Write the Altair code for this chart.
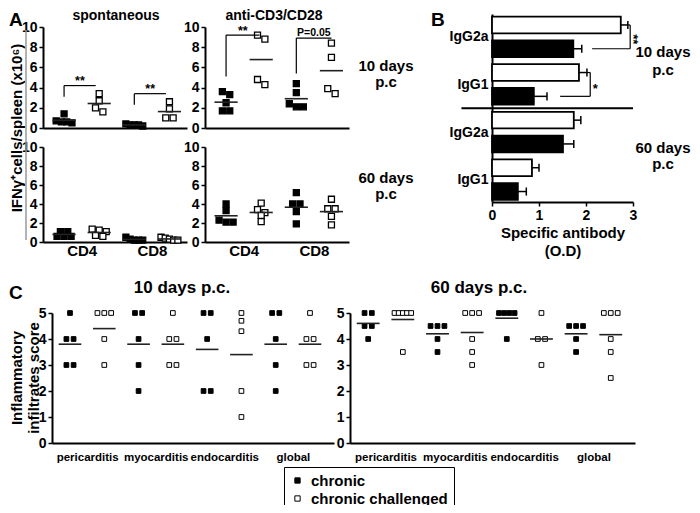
import altair as alt
import pandas as pd

FONT = "Liberation Sans"
W, H = 684, 497

groups = ["chronic", "chronic challenged"]

# ---------------- Panel A : IFN-gamma+ cells / spleen (x10^6) ----------------
a_cells = ["CD4", "CD8"]
a_col_titles = ["spontaneous", "anti-CD3/CD28"]
a_row_titles = [["10 days", "p.c"], ["60 days", "p.c"]]
a_ytitle = "IFNγ⁺cells/spleen (x10⁶)"
a_ticks = [0, 2, 4, 6, 8, 10]
# order: CD4 chronic, CD4 chronic challenged, CD8 chronic, CD8 chronic challenged
a_spont_10d = [[1.4, 0.7, 0.6, 0.6, 0.5], [3.4, 2.7, 2.0, 1.6],
               [0.4, 0.3, 0.3, 0.3, 0.2], [2.6, 1.9, 1.0, 1.0]]
a_stim_10d = [[3.6, 3.3, 2.5, 1.7, 1.7], [9.2, 8.8, 4.8, 4.3],
              [4.4, 3.5, 2.4, 2.1, 2.1], [8.4, 7.0, 3.9, 3.4]]
a_spont_60d = [[1.1, 1.1, 0.6, 0.6, 0.6], [1.35, 1.25, 1.1, 0.7, 0.6],
               [0.5, 0.3, 0.2, 0.2, 0.2], [0.5, 0.4, 0.3, 0.2, 0.2]]
a_stim_60d = [[4.0, 3.3, 2.3, 2.1, 2.1], [4.1, 3.4, 3.1, 2.8, 2.15],
              [5.2, 4.0, 4.0, 3.2, 1.9], [4.5, 3.5, 3.5, 2.7, 1.8]]
# significance: label, x_from, y_low, y_top, x_to
a_sig_spont_10d = [("**", 0, 3.1, 4.2, 0.9), ("**", 2, 2.3, 3.4, 2.9)]
a_sig_stim_10d = [("**", 0, 5.1, 9.2, 0.95), ("P=0.05", 2, 5.4, 8.9, 3.0)]

# ---------------- Panel B : specific antibody (O.D) ----------------
b_isotypes = ["IgG2a", "IgG1", "IgG2a", "IgG1"]
b_row_titles = [["10 days", "p.c"], ["60 days", "p.c"]]
b_challenged = [2.74, 1.85, 1.74, 0.85]
b_challenged_err = [0.15, 0.17, 0.15, 0.15]
b_chronic = [1.73, 0.89, 1.51, 0.55]
b_chronic_err = [0.18, 0.28, 0.23, 0.18]
b_xtitle = ["Specific antibody", "(O.D)"]
b_ticks = [0, 1, 2, 3]
b_brackets = [(2.89, 0, 2.94, 0), (2.94, 0, 2.94, 1), (2.13, 1, 2.94, 1),
              (2.02, 2, 2.09, 2), (2.09, 2, 2.09, 3), (1.45, 3, 2.09, 3)]
b_divider = [(-0.65, 3.5, 3.0, 3.5)]

# ---------------- Panel C : inflammatory infiltrates score ----------------
c_sites = ["pericarditis", "myocarditis", "endocarditis", "global"]
c_titles = ["10 days p.c.", "60 days p.c."]
c_ytitle = ["Inflammatory", "infiltrates score"]
c_ticks = [0, 1, 2, 3, 4, 5]
# order per site: chronic, chronic challenged
c_10d = [[5, 4, 4, 3, 3], [5, 5, 5, 4, 3],
         [5, 5, 4, 3, 2], [5, 4, 4, 3, 3],
         [5, 5, 4, 2, 2], [5, 4.7, 4.3, 2, 1],
         [5, 5, 4, 3, 2], [5, 4, 4, 3, 3]]
c_60d = [[5, 5, 4.5, 4.5, 4], [5, 5, 5, 5, 5, 3.5],
         [4.5, 4.5, 4.5, 4, 3.5], [5, 5, 5, 4, 3.5, 3],
         [5, 5, 5, 5, 4], [5, 4, 4, 3],
         [4.5, 4.5, 4.5, 4, 3.5], [5, 5, 5, 4, 3.5, 2.5]]


# ---------------- helpers ----------------
FILL = alt.Fill(
    "group:N",
    scale=alt.Scale(domain=groups, range=["black", "white"]),
    legend=alt.Legend(
        title=None, orient="none", legendX=276, legendY=459, direction="vertical",
        symbolType="square", symbolSize=28, symbolStrokeColor="black", symbolStrokeWidth=1,
        labelFont=FONT, labelFontSize=15, labelFontWeight="bold", labelColor="black",
        strokeColor="black", padding=6, rowPadding=2, labelOffset=6,
    ),
)


def base_axis(**kw):
    d = dict(grid=False, title=None, domainColor="black", domainWidth=2,
             tickColor="black", tickWidth=1.5, tickSize=4,
             labelFont=FONT, labelFontSize=14, labelFontWeight="bold",
             labelColor="black", labelPadding=2, labelFlush=False, labelOverlap=False)
    d.update(kw)
    return alt.Axis(**d)


def js_list(items):
    return "[" + ",".join("'" + s + "'" for s in items) + "]"


def scatter_frame(series, thr):
    rows = []
    for i, vals in enumerate(series):
        grp = groups[i % 2]
        clusters = []
        for v in sorted(vals, reverse=True):
            if clusters and clusters[-1][0] - v < thr:
                clusters[-1].append(v)
            else:
                clusters.append([v])
        for cl in clusters:
            n = len(cl)
            step = min(0.21, 0.6 / n)
            for k, v in enumerate(cl):
                rows.append({"x": i + (k - (n - 1) / 2) * step, "value": v, "group": grp})
    return pd.DataFrame(rows)


def mean_frame(series, half=0.33):
    return pd.DataFrame([{"x1": i - half, "x2": i + half, "mean": sum(v) / len(v)}
                         for i, v in enumerate(series)])


def seg_frame(segs):
    return pd.DataFrame(segs, columns=["x1", "y1", "x2", "y2"])


def label(txt, x, y, size=15, weight="bold", align="center", baseline="alphabetic", angle=None):
    kw = dict(font=FONT, fontSize=size, fontWeight=weight, align=align,
              baseline=baseline, color="black")
    if angle is not None:
        kw["angle"] = angle
    return alt.Chart(pd.DataFrame({"t": [txt]})).mark_text(**kw).encode(
        x=alt.value(x), y=alt.value(y), text="t:N")


def dot_panel(series, thr, xdom, xr, ydom, yr, yticks, xaxis_kw, size, sw, sig=None):
    xs = alt.Scale(domain=xdom, range=xr, nice=False, zero=False)
    ys = alt.Scale(domain=ydom, range=yr, nice=False, zero=False)
    xax = base_axis(orient="bottom", offset=yr[0] - H, ticks=False, **xaxis_kw)
    yax = base_axis(orient="left", offset=-xr[0], values=yticks)

    def X(f):
        return alt.X(f + ":Q", scale=xs, axis=xax)

    def Y(f):
        return alt.Y(f + ":Q", scale=ys, axis=yax)

    layers = [
        alt.Chart(scatter_frame(series, thr)).mark_point(
            shape="square", filled=True, size=size, stroke="black", strokeWidth=sw, opacity=1
        ).encode(x=X("x"), y=Y("value"), fill=FILL),
        alt.Chart(mean_frame(series)).mark_rule(color="#222", strokeWidth=1.6).encode(
            x=X("x1"), x2="x2", y=Y("mean")),
    ]
    if sig:
        segs, texts = [], []
        for lab, xf, ylo, ytop, xt in sig:
            segs.append((xf, ylo, xf, ytop))
            segs.append((xf, ytop, xt, ytop))
            star = lab.startswith("*")
            texts.append({"t": lab, "x": (xf + xt) / 2, "y": ytop + (0.05 if star else 0.2),
                          "s": 12.5 if star else 10.5})
        layers.append(alt.Chart(seg_frame(segs)).mark_rule(color="black", strokeWidth=1.2).encode(
            x=X("x1"), x2="x2", y=Y("y1"), y2="y2"))
        tdf = pd.DataFrame(texts)
        for s in sorted(tdf["s"].unique()):
            layers.append(alt.Chart(tdf[tdf["s"] == s]).mark_text(
                font=FONT, fontSize=float(s), fontWeight="bold", baseline="alphabetic", color="black"
            ).encode(x=X("x"), y=Y("y"), text="t:N"))
    return alt.layer(*layers)


# ---------------- Panel A ----------------
A_XDOM = [-0.6, 3.5]
a_top_x = dict(labels=False)
a_bot_x = dict(values=[0.5, 2.5], labelExpr=js_list(a_cells) + "[floor(datum.value/2)]",
               labelFontSize=15, labelPadding=1)
A_TL = dot_panel(a_spont_10d, 0.6, A_XDOM, [35, 179], [0, 10], [120, 19], a_ticks, a_top_x, 36, 1.3, a_sig_spont_10d)
A_TR = dot_panel(a_stim_10d, 0.6, A_XDOM, [197, 341], [0, 10], [120, 19], a_ticks, a_top_x, 36, 1.3, a_sig_stim_10d)
A_BL = dot_panel(a_spont_60d, 0.45, A_XDOM, [35, 179], [0, 10], [234, 139], a_ticks, a_bot_x, 36, 1.3)
A_BR = dot_panel(a_stim_60d, 0.45, A_XDOM, [197, 341], [0, 10], [234, 139], a_ticks, a_bot_x, 36, 1.3)

# ---------------- Panel B ----------------
b_rows = []
for k in range(len(b_isotypes)):
    for j, (vals, errs, grp) in enumerate([(b_challenged, b_challenged_err, groups[1]),
                                           (b_chronic, b_chronic_err, groups[0])]):
        idx = 2 * k + j
        b_rows.append({"idx": idx, "y1": idx - 0.35, "y2": idx + 0.35, "zero": 0.0,
                       "value": vals[k], "err_end": vals[k] + errs[k],
                       "c1": idx - 0.17, "c2": idx + 0.17, "group": grp})
b_df = pd.DataFrame(b_rows)

bxs = alt.Scale(domain=[0, 3], range=[484, 625], nice=False, zero=False)
bys = alt.Scale(domain=[-0.46, 7.44], range=[6, 194], nice=False, zero=False)
bxax = base_axis(orient="bottom", offset=194 - H, values=b_ticks, title=b_xtitle,
                 titleFont=FONT, titleFontSize=15, titleFontWeight="bold", titleColor="black",
                 titlePadding=3, titleLineHeight=18)
byax = base_axis(orient="left", offset=-484, values=[0.5, 2.5, 4.5, 6.5], ticks=False,
                 labelExpr=js_list(b_isotypes) + "[floor(datum.value/2)]", labelPadding=4)


def BX(f):
    return alt.X(f + ":Q", scale=bxs, axis=bxax)


def BY(f):
    return alt.Y(f + ":Q", scale=bys, axis=byax)


B = alt.layer(
    alt.Chart(b_df).mark_rect(stroke="black", strokeWidth=1.8).encode(
        x=BX("zero"), x2="value", y=BY("y1"), y2="y2", fill=FILL),
    alt.Chart(b_df).mark_rule(color="black", strokeWidth=1.5).encode(
        x=BX("value"), x2="err_end", y=BY("idx")),
    alt.Chart(b_df).mark_rule(color="black", strokeWidth=1.5).encode(
        x=BX("err_end"), y=BY("c1"), y2="c2"),
    alt.Chart(seg_frame(b_brackets)).mark_rule(color="black", strokeWidth=1.2).encode(
        x=BX("x1"), x2="x2", y=BY("y1"), y2="y2"),
    alt.Chart(seg_frame(b_divider)).mark_rule(color="black", strokeWidth=2).encode(
        x=BX("x1"), x2="x2", y=BY("y1"), y2="y2"),
    alt.Chart(pd.DataFrame({"t": ["**"], "x": [3.0], "y": [0.6]})).mark_text(
        font=FONT, fontSize=13, fontWeight="bold", angle=90, baseline="middle", color="black"
    ).encode(x=BX("x"), y=BY("y"), text="t:N"),
    alt.Chart(pd.DataFrame({"t": ["*"], "x": [2.2], "y": [2.86]})).mark_text(
        font=FONT, fontSize=13, fontWeight="bold", baseline="alphabetic", color="black"
    ).encode(x=BX("x"), y=BY("y"), text="t:N"),
)

# ---------------- Panel C ----------------
C_XDOM = [-0.525, 7.7]
c_x = dict(values=[0.5, 2.5, 4.5, 6.5], labelExpr=js_list(c_sites) + "[floor(datum.value/2)]",
           labelFontSize=11.5, labelFontWeight="bold", labelPadding=8)
C_L = dot_panel(c_10d, 0.2, C_XDOM, [44, 326], [0, 5], [435, 305], c_ticks, c_x, 22, 1.0)
C_R = dot_panel(c_60d, 0.2, C_XDOM, [342, 627], [0, 5], [435, 305], c_ticks, c_x, 22, 1.0)

# ---------------- annotations ----------------
notes = [
    label("A", 1, 18, size=19, align="left"),
    label(a_col_titles[0], 108, 12, size=14),
    label(a_col_titles[1], 266, 12, size=14),
    label(a_ytitle, 9, 120, size=15, baseline="middle", angle=270),
    label(a_row_titles[0][0], 378, 63), label(a_row_titles[0][1], 378, 79),
    label(a_row_titles[1][0], 378, 175), label(a_row_titles[1][1], 378, 191),
    label("B", 423, 18, size=19, align="left"),
    label(b_row_titles[0][0], 655, 49), label(b_row_titles[0][1], 655, 67),
    label(b_row_titles[1][0], 655, 145), label(b_row_titles[1][1], 655, 161),
    label("C", 1, 291, size=19, align="left"),
    label(c_titles[0], 174, 285, size=17),
    label(c_titles[1], 471, 285, size=17),
    label(c_ytitle[0], 9, 370, size=15, baseline="middle", angle=270),
    label(c_ytitle[1], 26, 370, size=15, baseline="middle", angle=270),
    alt.Chart(pd.DataFrame({"a": [0]})).mark_rule(color="#999", strokeWidth=1.5).encode(
        x=alt.value(18), y=alt.value(22), y2=alt.value(232)),
]

chart = alt.layer(A_TL, A_TR, A_BL, A_BR, B, C_L, C_R, *notes).resolve_scale(
    x="independent", y="independent"
).properties(
    width=W, height=H, padding=0, autosize=alt.AutoSizeParams(type="none")
).configure_view(stroke=None)

chart.save("out.html", embed_options={"renderer": "svg", "actions": False})
